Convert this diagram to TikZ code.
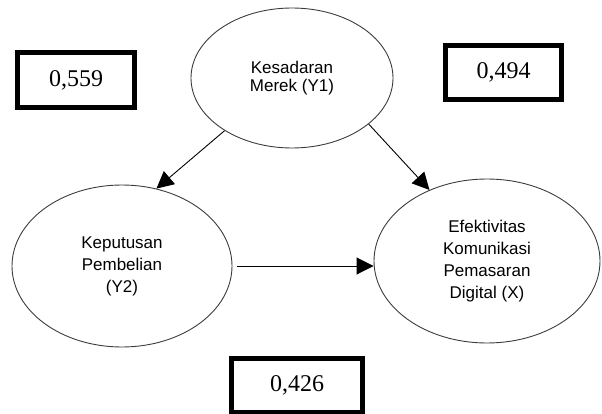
\documentclass[tikz,border=0pt]{standalone}
\usepackage{fontspec}
\setmainfont{Liberation Serif}
\setsansfont{Liberation Sans}
\definecolor{kontur}{RGB}{60,60,60}
\usetikzlibrary{arrows.meta,positioning,shapes.geometric}

\begin{document}
\begin{tikzpicture}[x=1pt, y=-1pt,
    variabel/.style={ellipse, draw=kontur, line width=0.9pt, inner sep=0pt,
                     align=center, font=\sffamily\fontsize{17}{22}\selectfont},
    nilai/.style={draw=black, line width=5pt, inner sep=0pt,
                  font=\fontsize{24}{28}\selectfont},
    panah/.style={-{Triangle[length=17pt, width=17pt]}, black, line width=0.9pt}]
  \useasboundingbox (0,0) rectangle (602,414);

  % variabel laten
  \node[variabel, minimum width=202pt, minimum height=140pt,
        font=\sffamily\fontsize{17}{18.5}\selectfont] (ky) at (292,78)
    {Kesadaran\\Merek (Y1)};
  \node[variabel, minimum width=220pt, minimum height=162pt] (kp) at (122,266)
    {Keputusan\\Pembelian\\(Y2)};
  \node[variabel, minimum width=226pt, minimum height=164pt] (ek) at (487,261)
    {Efektivitas\\Komunikasi\\Pemasaran\\Digital (X)};

  % koefisien
  \node[nilai, minimum width=117pt, minimum height=55pt] (r1) at (76,80) {0,559};
  \node[nilai, minimum width=116pt, minimum height=54pt] (r2) at (503.5,72.5) {0,494};
  \node[nilai, minimum width=131pt, minimum height=54pt] (r3) at (297,385.5) {0,426};

  \draw[panah] (ky.218) -- (kp.66);
  \draw[panah] (ky.329) -- (ek.129);
  \draw[panah, shorten <=5pt] (kp.east) -- (kp.east -| ek.west);
\end{tikzpicture}
\end{document}
